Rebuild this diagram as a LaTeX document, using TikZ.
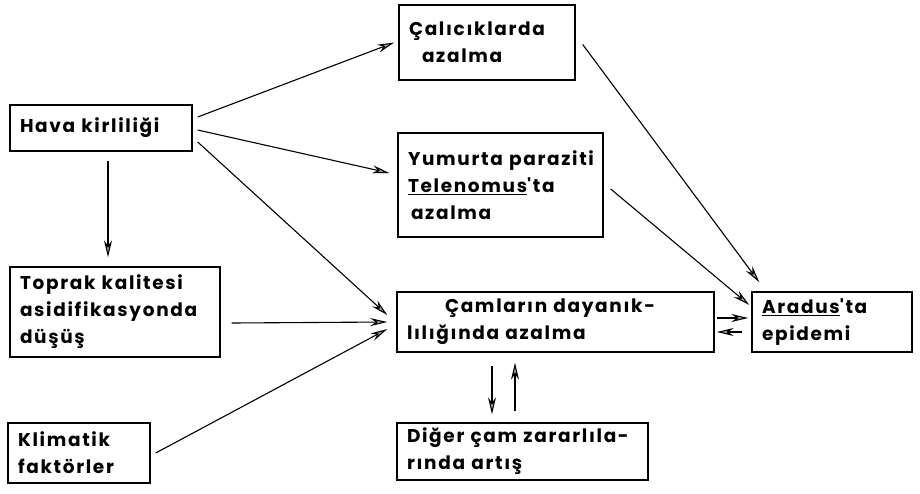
\documentclass[tikz,border=0pt]{standalone}
\usepackage{fontspec}
\setmainfont{Poppins}
\newfontfamily\lab[LetterSpace=9]{Poppins Bold}
\usetikzlibrary{arrows.meta}
\tikzset{
  box/.style={draw, line width=1.4pt, inner xsep=10pt, inner ysep=0pt, align=left,
    font=\lab\fontsize{18.5}{27}\selectfont, minimum height=#1},
  arr/.style={line width=1.1pt, -{Stealth[length=17pt,width=8pt,fill=black!35,line width=1.1pt]}}
}
\begin{document}
\begin{tikzpicture}[x=1pt,y=-1pt]
\useasboundingbox (0,0) rectangle (920,493);
\node[box=46, text width=162] (hava) at (101,128) {\mbox{Hava kirliliği}};
\node[box=75, text width=156] (cal) at (487,42.5) {\mbox{Çalıcıklarda}\\\hspace*{13pt}azalma};
\node[box=104, text width=185] (yum) at (500.5,185) {\mbox{Yumurta paraziti}\\\mbox{\underline{Telenomus}'ta}\\\hspace*{3pt}azalma};
\node[box=90, text width=190] (top) at (115,312) {\mbox{Toprak kalitesi}\\\mbox{asidifikasyonda}\\düşüş};
\node[box=60, text width=297] (cam) at (555.5,322) {\hspace*{38pt}\mbox{Çamların dayanık-}\\\mbox{lılığında azalma}};
\node[box=60, text width=140] (ara) at (832,322) {\mbox{\underline{Aradus}'ta}\\epidemi};
\node[box=60, text width=122] (kli) at (79,453) {Klimatik\\faktörler};
\node[box=57, text width=231] (dig) at (522.5,451.5) {\mbox{Diğer çam zararlıla-}\\\mbox{rında artış}};

\draw[arr] ([shift={(5,-11)}]hava.east) -- ([xshift=-4]cal.west);
\draw[arr] ([shift={(5,2)}]hava.east) -- ([shift={(-8,-12)}]yum.west);
\draw[arr] ([shift={(5,14)}]hava.east) -- ([shift={(-9,-7)}]cam.west);
\draw[arr] ([shift={(7,9)}]hava.south) -- ([shift={(-7,-9)}]top.north);
\draw[arr] ([shift={(11,11)}]top.east) -- ([xshift=-9]cam.west);
\draw[arr] ([xshift=5]kli.east) -- ([shift={(-9,7)}]cam.west);
\draw[arr] ([shift={(7,2)}]cal.east) -- ([shift={(8,-9)}]ara.north west);
\draw[arr] ([shift={(7,4)}]yum.east) -- ([shift={(-2,-17)}]ara.west);
\draw[arr] ([shift={(2,-4)}]cam.east) -- ([shift={(-3,-4)}]ara.west);
\draw[arr] ([shift={(-9,10)}]ara.west) -- ([shift={(2,10)}]cam.east);
\draw[arr] ([shift={(-63.5,13)}]cam.south) -- ([shift={(-30.5,-8)}]dig.north);
\draw[arr] ([shift={(-7.5,-11)}]dig.north) -- ([shift={(-40.5,10)}]cam.south);
\end{tikzpicture}
\end{document}
